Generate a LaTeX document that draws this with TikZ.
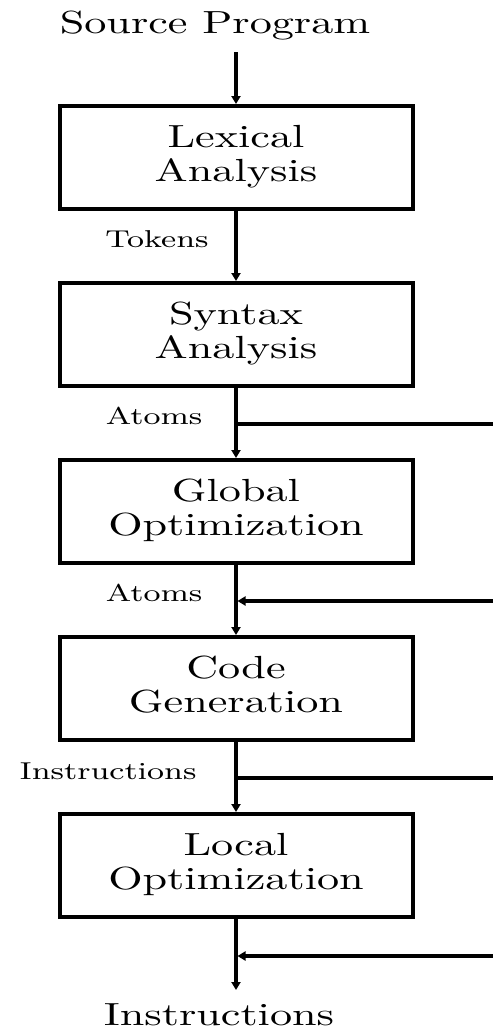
\documentclass[tikz,border=0pt]{standalone}
\usepackage{graphicx}
\usetikzlibrary{arrows.meta}

% text is set at its design size and enlarged, slightly wide
\newcommand{\bigtxt}[1]{\scalebox{2.21}[1.6]{\fontsize{10}{10.8}\selectfont #1}}
\newcommand{\smalltxt}[1]{\scalebox{2.0}[1.525]{\fontsize{8}{9}\selectfont #1}}
\newcommand{\twolines}[2]{\bigtxt{\begin{tabular}{@{}c@{}}#1\\#2\end{tabular}}}

\tikzset{
  stagebox/.style={draw, line width=2pt, minimum width=176.5pt, minimum height=51.5pt,
                   inner sep=0pt, align=center},
  flowline/.style={line width=2.2pt, -{Triangle[length=4pt,width=4.5pt]}},
  sideline/.style={line width=1.7pt},
  sidearrow/.style={line width=1.7pt, -{Triangle[length=4pt,width=4.5pt]}},
  edgelabel/.style={inner sep=0pt, anchor=base},
  endlabel/.style={inner sep=0pt, anchor=base}
}

\begin{document}
\begin{tikzpicture}[x=0.5pt, y=-0.5pt]
  \useasboundingbox (0,0) rectangle (493,1030);

  % input and output texts
  \node[endlabel] (src) at (215,33) {\bigtxt{Source Program}};
  \node[endlabel] (out) at (219,1025) {\bigtxt{Instructions}};

  % compiler phases
  \node[stagebox] (lex) at (236,157.5) {\twolines{Lexical}{Analysis}};
  \node[stagebox] (syn) at (236,334.5) {\twolines{Syntax}{Analysis}};
  \node[stagebox] (glo) at (236,511.5) {\twolines{Global}{Optimization}};
  \node[stagebox] (gen) at (236,688.5) {\twolines{Code}{Generation}};
  \node[stagebox] (loc) at (236,865.5) {\twolines{Local}{Optimization}};

  % points on the main line and at the right margin
  \coordinate (srcend) at (236,52);
  \coordinate (outend) at (236,990);
  \coordinate (b1) at (236,424);    \coordinate (r1) at (493,424);
  \coordinate (b2) at (237.5,601);  \coordinate (r2) at (493,601);
  \coordinate (b3) at (236,778);    \coordinate (r3) at (493,778);
  \coordinate (b4) at (237.5,956);  \coordinate (r4) at (493,956);

  % main flow
  \draw[flowline] (srcend) -- (lex.north);
  \draw[flowline] (lex.south) -- (syn.north);
  \draw[flowline] (syn.south) -- (glo.north);
  \draw[flowline] (glo.south) -- (gen.north);
  \draw[flowline] (gen.south) -- (loc.north);
  \draw[flowline] (loc.south) -- (outend);

  % bypass lines around the optimizers
  \draw[sideline] (b1) -- (r1);
  \draw[sidearrow] (r2) -- (b2);
  \draw[sideline] (b3) -- (r3);
  \draw[sidearrow] (r4) -- (b4);

  % labels on the connectors
  \node[edgelabel] (tok) at (157,247) {\smalltxt{Tokens}};
  \node[edgelabel] (at1) at (154,424) {\smalltxt{Atoms}};
  \node[edgelabel] (at2) at (154,601) {\smalltxt{Atoms}};
  \node[edgelabel] (ins) at (108,779) {\smalltxt{Instructions}};
\end{tikzpicture}
\end{document}
